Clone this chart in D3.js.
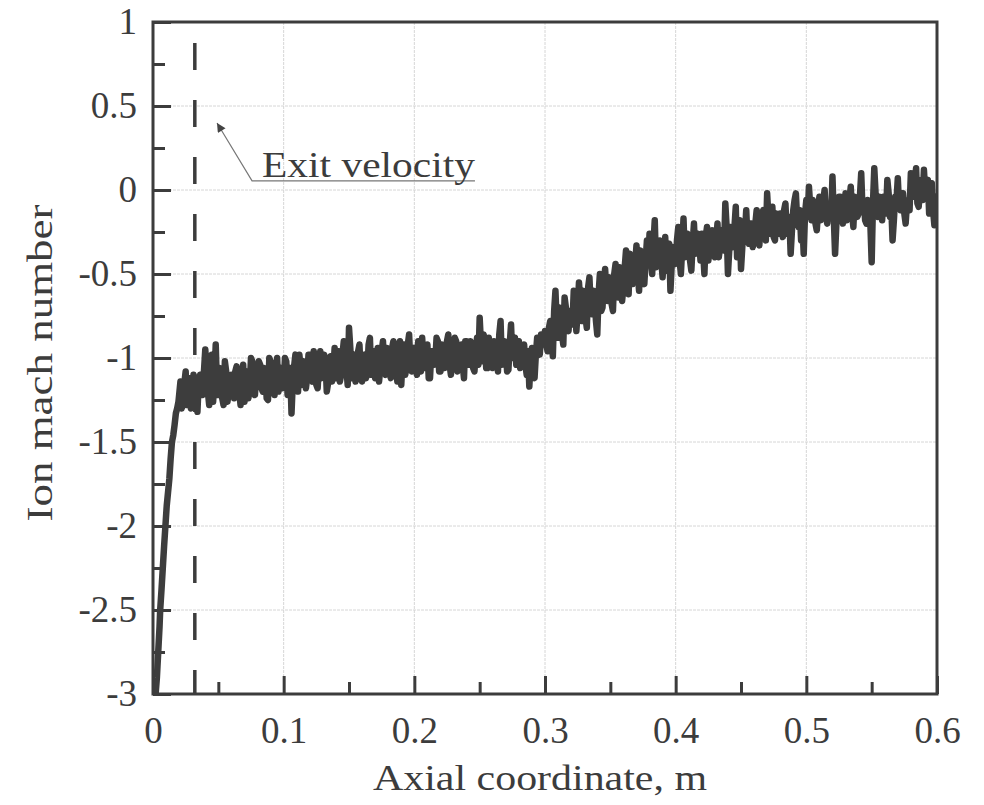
<!DOCTYPE html>
<html>
<head>
<meta charset="utf-8">
<script src="https://cdn.jsdelivr.net/npm/d3@7"></script>
<style>
  body { margin: 0; background: #fff; }
  svg text { font-family: "Liberation Serif", "Times New Roman", serif; fill: #3c3c3c; }
</style>
</head>
<body>
<svg width="984" height="805"></svg>
<script>
// steep rise near the inlet, read point by point
const risePoints = [
  [0.002, -3.0], [0.003, -2.9], [0.004, -2.75], [0.005, -2.6], [0.0055, -2.5],
  [0.0065, -2.38], [0.0075, -2.25], [0.0085, -2.12], [0.0095, -2.0], [0.0105, -1.88],
  [0.0115, -1.8], [0.0125, -1.72], [0.0135, -1.6], [0.0145, -1.5], [0.0155, -1.46],
  [0.0165, -1.4], [0.0175, -1.33], [0.0185, -1.3], [0.0195, -1.26]
];

// noisy part, sampled every 0.002 m starting at 0.020 m
const noiseStart = 0.02;
const noiseStep = 0.002;
const noiseValues = [
  -1.22, -1.3, -1.15, -1.28, -1.12, -1.25, -1.18, -1.32, -1.1, -1.22,
  -0.95, -1.2, -1.1, -1.26, -0.92, -1.22, -1.12, -1.28, -1.08, -1.2,
  -1.1, -1.24, -1.05, -1.2, -1.14, -1.26, -1.08, -1.18, -1.02, -1.22,
  -1.16, -1.04, -1.2, -1.1, -1.25, -1.02, -1.15, -1.08, -1.2, -1.06,
  -1.15, -1.02, -1.18, -1.33, -1.05, -1.12, -0.98, -1.16, -1.04, -1.12,
  -0.98, -1.14, -1.04, -1.18, -0.96, -1.1, -1.02, -1.15, -0.99, -1.08,
  -1.12, -0.96, -1.1, -0.9, -1.06, -0.82, -1.12, -0.98, -1.1, -0.92,
  -1.14, -0.98, -1.08, -0.88, -1.04, -1.12, -0.94, -1.06, -0.9, -1.1,
  -0.96, -1.12, -0.9, -1.04, -0.98, -1.16, -0.92, -1.06, -0.86, -1.08,
  -0.94, -1.1, -0.98, -0.88, -1.06, -0.92, -1.12, -0.96, -1.02, -0.9,
  -1.08, -0.94, -1.02, -0.86, -1.1, -0.96, -0.9, -1.05, -0.92, -1.12,
  -0.9, -1.04, -0.94, -1.08, -0.88, -0.76, -1.02, -0.9, -1.06, -0.94,
  -1.06, -0.92, -1.08, -0.78, -1.02, -0.94, -1.07, -0.8, -0.98, -1.04,
  -0.9, -1.05, -0.92, -1.1, -1.17, -0.94, -1.12, -0.88, -0.98, -0.86,
  -0.84, -0.96, -0.78, -0.99, -0.6, -0.88, -0.74, -0.92, -0.7, -0.84,
  -0.72, -0.6, -0.84, -0.55, -0.78, -0.64, -0.82, -0.52, -0.74, -0.62,
  -0.86, -0.5, -0.7, -0.47, -0.66, -0.56, -0.72, -0.44, -0.64, -0.52,
  -0.58, -0.36, -0.62, -0.42, -0.5, -0.33, -0.6, -0.4, -0.56, -0.3,
  -0.26, -0.5, -0.18, -0.44, -0.3, -0.52, -0.28, -0.42, -0.6, -0.34,
  -0.44, -0.22, -0.5, -0.17, -0.38, -0.28, -0.48, -0.2, -0.36, -0.3,
  -0.26, -0.5, -0.22, -0.36, -0.24, -0.4, -0.2, -0.34, -0.28, -0.08,
  -0.5, -0.22, -0.34, -0.1, -0.3, -0.47, -0.2, -0.12, -0.32, -0.2,
  -0.28, -0.12, -0.33, -0.16, -0.24, -0.02, -0.26, -0.1, -0.3, -0.18,
  -0.14, -0.28, -0.08, -0.2, -0.38, -0.12, -0.02, -0.22, -0.3, -0.38,
  -0.06, 0.02, -0.18, -0.1, -0.24, -0.04, -0.14, 0.0, -0.2, -0.08,
  0.08, -0.38, -0.12, -0.04, -0.2, -0.02, -0.16, 0.02, -0.22, -0.08,
  -0.14, 0.1, -0.06, -0.2, -0.1, -0.43, 0.13, -0.12, -0.04, -0.18,
  -0.08, 0.06, -0.16, -0.3, -0.04, 0.07, -0.12, -0.02, -0.2, -0.06,
  0.1, -0.04, 0.13, -0.1, 0.06, 0.12, -0.02, -0.14, 0.04, -0.21, -0.08
];

// in-between samples, every 0.002 m starting at 0.021 m
const midStart = 0.021;
const midValues = [
  -1.14, -1.24, -1.08, -1.2, -1.3, -1.1, -1.26, -1.14, -1.2, -1.08,
  -1.06, -1.28, -0.98, -1.14, -1.18, -1.06, -1.24, -1.02, -1.26, -1.12,
  -1.2, -1.08, -1.16, -1.28, -1.04, -1.14, -1.24, -1.0, -1.16, -1.1,
  -1.02, -1.18, -1.06, -1.24, -1.0, -1.16, -1.22, -1.0, -1.12, -1.18,
  -1.0, -1.22, -1.06, -1.14, -0.98, -1.2, -1.06, -1.02, -1.18, -0.98,
  -1.12, -0.96, -1.16, -1.04, -1.12, -0.98, -1.2, -1.04, -1.14, -0.94,
  -1.0, -1.14, -0.98, -1.08, -1.16, -0.94, -1.04, -1.14, -0.96, -1.1,
  -1.02, -1.12, -0.92, -1.1, -0.96, -1.0, -1.14, -0.96, -1.08, -0.94,
  -1.08, -0.94, -1.06, -1.14, -0.9, -1.0, -1.1, -0.92, -1.04, -0.96,
  -1.06, -0.9, -1.08, -1.02, -0.94, -1.12, -0.96, -1.04, -0.88, -1.08,
  -0.92, -1.06, -0.9, -1.04, -0.98, -0.88, -1.08, -0.96, -1.04, -0.9,
  -1.02, -0.9, -1.06, -0.96, -1.04, -0.92, -0.86, -1.06, -0.88, -1.02,
  -0.9, -1.02, -0.86, -1.04, -0.9, -1.08, -0.92, -1.0, -0.88, -0.96,
  -1.06, -0.94, -1.04, -0.96, -1.02, -1.08, -0.98, -0.92, -0.86, -0.92,
  -0.92, -0.82, -0.9, -0.72, -0.8, -0.7, -0.86, -0.64, -0.8, -0.72,
  -0.8, -0.68, -0.72, -0.66, -0.6, -0.76, -0.58, -0.7, -0.6, -0.78,
  -0.62, -0.72, -0.56, -0.6, -0.52, -0.68, -0.5, -0.6, -0.46, -0.66,
  -0.46, -0.54, -0.38, -0.56, -0.44, -0.5, -0.36, -0.54, -0.42, -0.44,
  -0.4, -0.32, -0.46, -0.36, -0.42, -0.38, -0.48, -0.32, -0.44, -0.4,
  -0.3, -0.42, -0.34, -0.4, -0.26, -0.42, -0.32, -0.38, -0.26, -0.42,
  -0.36, -0.28, -0.42, -0.26, -0.38, -0.3, -0.4, -0.24, -0.36, -0.22,
  -0.36, -0.28, -0.22, -0.4, -0.18, -0.34, -0.26, -0.3, -0.2, -0.34,
  -0.2, -0.3, -0.22, -0.12, -0.3, -0.16, -0.22, -0.28, -0.14, -0.26,
  -0.22, -0.12, -0.26, -0.16, -0.24, -0.06, -0.18, -0.12, -0.2, -0.14,
  -0.16, -0.1, -0.06, -0.2, -0.12, -0.18, -0.06, -0.16, -0.1, -0.16,
  -0.16, -0.2, -0.04, -0.14, -0.08, -0.18, -0.06, -0.14, -0.04, -0.16,
  -0.04, -0.12, -0.18, -0.06, -0.2, -0.08, -0.02, -0.16, -0.1, -0.04,
  -0.14, -0.02, -0.1, -0.18, -0.06, -0.1, -0.02, -0.14, -0.08, -0.12,
  -0.02, 0.04, -0.08, 0.02, -0.06, -0.02, 0.06, -0.06, -0.12, -0.04
];

const xTicks = [0, 0.1, 0.2, 0.3, 0.4, 0.5, 0.6];
const xTickLabels = ["0", "0.1", "0.2", "0.3", "0.4", "0.5", "0.6"];
const xMinorTicks = [0.05, 0.15, 0.25, 0.35, 0.45, 0.55];
const yTicks = [1, 0.5, 0, -0.5, -1, -1.5, -2, -2.5, -3];
const yTickLabels = ["1", "0.5", "0", "-0.5", "-1", "-1.5", "-2", "-2.5", "-3"];
const yMinorTicks = [0.75, 0.25, -0.25, -0.75, -1.25, -1.75, -2.25, -2.75];

// dashed exit marker and the annotation
const exitX = 0.032;
const exitTop = 0.875;
const annotation = {
  text: "Exit velocity",
  tip: [0.049, 0.399],
  elbow: [0.0758, 0.054],
  end: 0.2464
};

const margin = { top: 22, right: 47, bottom: 111, left: 153 };
const width = 984 - margin.left - margin.right;
const height = 805 - margin.top - margin.bottom;
const INK = "#3c3c3c";

const svg = d3.select("svg");
const g = svg.append("g").attr("transform", `translate(${margin.left},${margin.top})`);

const xScale = d3.scaleLinear().domain([0, 0.6]).range([0, width]);
const yScale = d3.scaleLinear().domain([-3, 1]).range([height, 0]);

// grid
g.append("g")
  .selectAll("line")
  .data(xTicks.slice(1, -1))
  .join("line")
  .attr("x1", d => xScale(d))
  .attr("x2", d => xScale(d))
  .attr("y1", 0)
  .attr("y2", height)
  .attr("stroke", "#d6d6d6")
  .attr("stroke-width", 1)
  .attr("stroke-dasharray", "3,1");
g.append("g")
  .selectAll("line")
  .data(yTicks.slice(1, -1))
  .join("line")
  .attr("x1", 0)
  .attr("x2", width)
  .attr("y1", d => yScale(d))
  .attr("y2", d => yScale(d))
  .attr("stroke", "#d6d6d6")
  .attr("stroke-width", 1)
  .attr("stroke-dasharray", "3,1");

// axes, ticks pointing inward
const xAxis = d3.axisBottom(xScale)
  .tickValues(xTicks)
  .tickFormat((d, i) => xTickLabels[i])
  .tickSizeInner(-18)
  .tickSizeOuter(0)
  .tickPadding(23);
const xAxisMinor = d3.axisBottom(xScale)
  .tickValues(xMinorTicks)
  .tickFormat("")
  .tickSizeInner(-12)
  .tickSizeOuter(0);
const yAxis = d3.axisLeft(yScale)
  .tickValues(yTicks)
  .tickFormat((d, i) => yTickLabels[i])
  .tickSizeInner(-18)
  .tickSizeOuter(0)
  .tickPadding(16);
const yAxisMinor = d3.axisLeft(yScale)
  .tickValues(yMinorTicks)
  .tickFormat("")
  .tickSizeInner(-12)
  .tickSizeOuter(0);

[
  [xAxis, `translate(0,${height})`],
  [xAxisMinor, `translate(0,${height})`],
  [yAxis, null],
  [yAxisMinor, null]
].forEach(([axis, tr]) => {
  const a = g.append("g").attr("transform", tr).call(axis);
  a.select(".domain").remove();
  a.selectAll(".tick line").attr("stroke", INK).attr("stroke-width", 3);
  a.selectAll(".tick text")
    .attr("font-size", 37)
    .attr("fill", INK)
    .style("font-family", '"Liberation Serif", serif');
});

// dashed exit line
g.append("line")
  .attr("x1", xScale(exitX))
  .attr("x2", xScale(exitX))
  .attr("y1", yScale(exitTop))
  .attr("y2", yScale(-3))
  .attr("stroke", INK)
  .attr("stroke-width", 3.5)
  .attr("stroke-dasharray", "27,30");

// the curve: rise + both sample sets merged in x order
const noisePoints = noiseValues.map((v, i) => [noiseStart + i * noiseStep, v])
  .concat(midValues.map((v, i) => [midStart + i * noiseStep, v]))
  .sort((a, b) => a[0] - b[0]);
const curve = risePoints.concat(noisePoints);
const line = d3.line()
  .x(d => xScale(d[0]))
  .y(d => yScale(d[1]));

g.append("defs").append("clipPath").attr("id", "plot")
  .append("rect").attr("width", width).attr("height", height);
g.append("path")
  .attr("d", line(curve))
  .attr("clip-path", "url(#plot)")
  .attr("fill", "none")
  .attr("stroke", "#3d3d3d")
  .attr("stroke-width", 6.5)
  .attr("stroke-linejoin", "round");

// frame
g.append("rect")
  .attr("width", width)
  .attr("height", height)
  .attr("fill", "none")
  .attr("stroke", INK)
  .attr("stroke-width", 3);

// annotation with leader
svg.append("defs").append("marker")
  .attr("id", "arrow")
  .attr("viewBox", "0 0 10 10")
  .attr("refX", 10)
  .attr("refY", 5)
  .attr("markerWidth", 11)
  .attr("markerHeight", 9)
  .attr("markerUnits", "userSpaceOnUse")
  .attr("orient", "auto")
  .append("path")
  .attr("d", "M0,0L10,5L0,10Z")
  .attr("fill", "#444");

g.append("path")
  .attr("d", d3.line()([
    [xScale(annotation.end), yScale(annotation.elbow[1])],
    [xScale(annotation.elbow[0]), yScale(annotation.elbow[1])],
    [xScale(annotation.tip[0]), yScale(annotation.tip[1])]
  ]))
  .attr("fill", "none")
  .attr("stroke", "#777")
  .attr("stroke-width", 1.2)
  .attr("marker-end", "url(#arrow)");

g.append("text")
  .attr("x", xScale(annotation.elbow[0]) + 10)
  .attr("y", yScale(annotation.elbow[1]) - 4)
  .attr("font-size", 36)
  .attr("textLength", 213)
  .attr("lengthAdjust", "spacingAndGlyphs")
  .text(annotation.text);

// axis titles
svg.append("text")
  .attr("x", margin.left + width / 2 - 5)
  .attr("y", 790)
  .attr("text-anchor", "middle")
  .attr("font-size", 36)
  .attr("textLength", 334)
  .attr("lengthAdjust", "spacingAndGlyphs")
  .text("Axial coordinate, m");

svg.append("text")
  .attr("transform", `translate(52,${margin.top + height / 2 + 5}) rotate(-90)`)
  .attr("text-anchor", "middle")
  .attr("font-size", 36)
  .attr("textLength", 317)
  .attr("lengthAdjust", "spacingAndGlyphs")
  .text("Ion mach number");
</script>
</body>
</html>
